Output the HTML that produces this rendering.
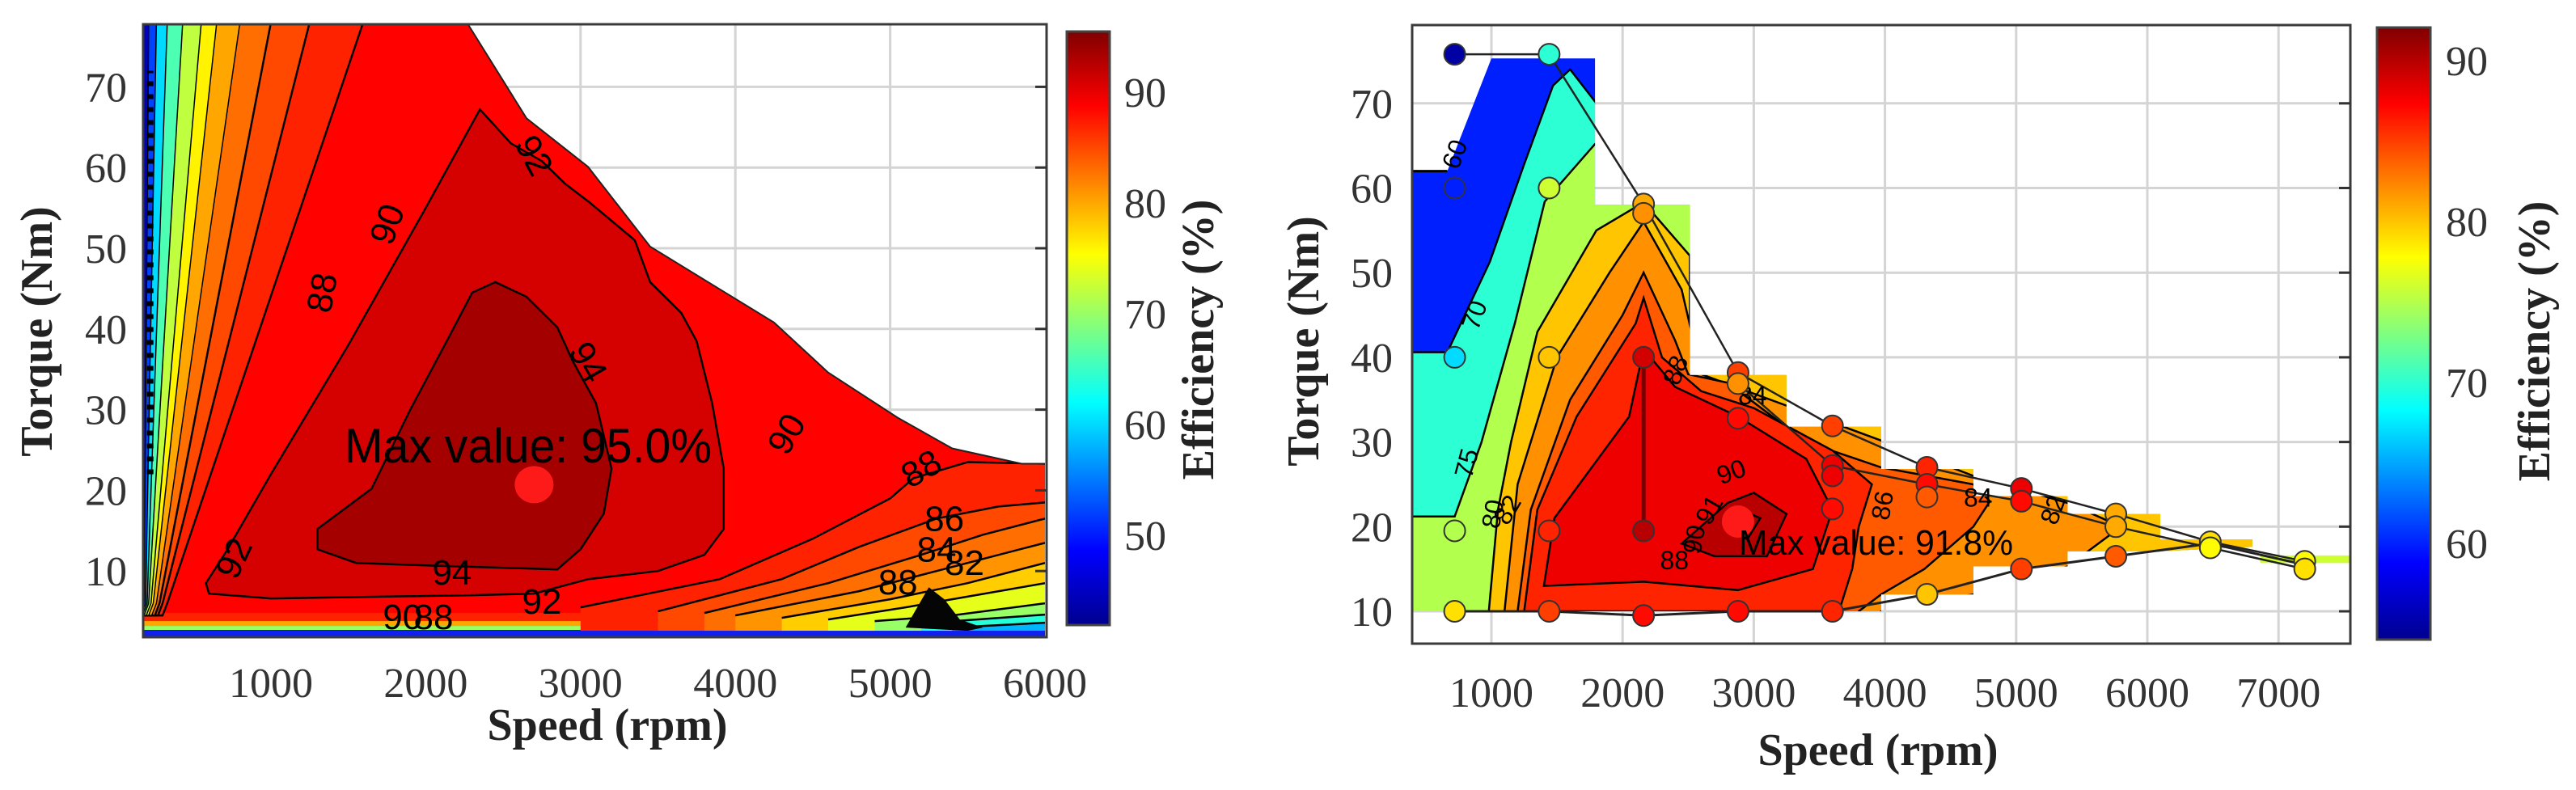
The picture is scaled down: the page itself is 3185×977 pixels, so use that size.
<!DOCTYPE html>
<html><head><meta charset="utf-8"><style>
html,body{margin:0;padding:0;background:#fff;}
svg{display:block;}
text{font-family:"Liberation Serif",serif;fill:#333;}
.sans{font-family:"Liberation Sans",sans-serif;fill:#000;}
.title{font-weight:bold;font-size:56px;fill:#222;}
.tick{font-size:52px;}
</style></head><body>
<svg id="chart" width="3185" height="977" viewBox="0 0 3185 977" xmlns="http://www.w3.org/2000/svg">
<defs>
<linearGradient id="jetL" x1="0" y1="1" x2="0" y2="0">
<stop offset="0" stop-color="#00008f"/><stop offset="0.125" stop-color="#0000ff"/><stop offset="0.375" stop-color="#00ffff"/><stop offset="0.625" stop-color="#ffff00"/><stop offset="0.875" stop-color="#ff0000"/><stop offset="1" stop-color="#800000"/>
</linearGradient>
<clipPath id="clipL"><polygon id="clipLpoly"/></clipPath>
<clipPath id="clipR"><polygon id="clipRpoly"/></clipPath>
</defs>
<g id="left"></g>
<g id="right"></g>
<text class="title" x="751" y="915" text-anchor="middle">Speed (rpm)</text>
<text class="title" transform="translate(64,410) rotate(-90)" text-anchor="middle">Torque (Nm)</text>
<text class="title" transform="translate(1500,420) rotate(-90)" text-anchor="middle">Efficiency (%)</text>
<text class="title" x="2322" y="946" text-anchor="middle">Speed (rpm)</text>
<text class="title" transform="translate(1630,422) rotate(-90)" text-anchor="middle">Torque (Nm)</text>
<text class="title" transform="translate(3152,422) rotate(-90)" text-anchor="middle">Efficiency (%)</text>
</svg>
<script>
// ---------- LEFT CHART DATA ----------
const leftXTicks = [1000,2000,3000,4000,5000,6000];
const leftYTicks = [10,20,30,40,50,60,70];
const leftCbTicks = [50,60,70,80,90];
const leftBoundary = [[175,1.8],[175,77.7],[2275,77.7],[2651,66.1],[3048,60.1],[3450,50.2],[4250,40.8],[4600,34.6],[5049,29],[5400,25.2],[5849,23.3],[6000,23.3],[6000,1.8]];
const leftMainLevel = 88.7;
const leftBottomStrips = [[87,3.8,4.8],[80,3.2,3.8],[70,2.7,3.2],[50,1.8,2.7]];
const left92 = [[2350,67.2],[2550,63],[2750,60.8],[2900,58],[3050,55.8],[3350,51],[3450,45.8],[3650,42],[3750,38.5],[3850,30.8],[3925,22.7],[3925,15.2],[3800,12],[3500,10],[3050,9],[2700,7.2],[2300,7.0],[1000,6.6],[600,7.2],[580,8.5],[720,12.7],[1000,22],[1500,38],[2000,55]];
const left94 = [[2450,45.8],[2300,44.5],[2150,39],[1900,30],[1650,20.2],[1300,15.2],[1300,12.7],[1550,11],[2000,10.7],[2850,10.2],[3000,12.7],[3150,17.1],[3200,22.7],[3100,30.8],[2950,36],[2850,40.2],[2650,44]];
const left92Level = 91;
const left94Level = 93.5;
const leftFanLevels = [87,85,83,81,78,74,70,64,58];
const leftFanEdges = [
 [[3000,5.5],[3900,9],[4500,14],[5000,19],[5150,21.5],[5500,23.5],[6000,23.3]],
 [[3500,5],[4300,9],[4800,13],[5300,16.5],[5700,18],[6000,18.5]],
 [[3800,4.8],[4600,8.5],[5200,12],[5600,14.5],[6000,16.5]],
 [[4000,4.5],[4800,7.5],[5300,10],[6000,13.5]],
 [[4300,4.2],[5000,6.5],[5500,8.5],[6000,11]],
 [[4600,4],[5100,5.5],[6000,8.5]],
 [[4900,3.8],[5400,4.5],[6000,6]],
 [[5200,3.5],[6000,4.6]],
 [[5400,3.0],[6000,3.6]]
];
const leftBandLevels = [87,85,83,80,76,72,66,60,52,45];
const leftBandTop = [1596,1250,1000,800,650,550,430,330,260,210];
const leftBandBottom = [330,300,280,260,240,225,210,200,190,180];
const leftDark = [[5100,3],[5250,8],[5350,6.5],[5450,4],[5600,3],[5500,2.6]];
const leftLabels = [["92",2700,61.5,62],["90",1750,53,-70],["88",1330,44.5,-80],["94",3050,35.9,60],["94",2170,9.8,0],["92",2750,6.2,0],["92",760,11.6,-65],["90",4330,27,-60],["88",5200,22.7,-30],["86",5350,16.5,0],["84",5300,12.7,0],["82",5480,11,0],["90",1850,4.3,0],["88",5050,8.6,0],["88",2050,4.3,0]];
const leftMax = [2700,20.7];
// ---------- RIGHT CHART DATA ----------
const rightXTicks = [1000,2000,3000,4000,5000,6000,7000];
const rightYTicks = [10,20,30,40,50,60,70];
const rightCbTicks = [60,70,80,90];
const rightDomain = [[395,10],[395,62],[664,62],[1000,75.3],[1790,75.3],[1790,58],[2513,58],[2513,37.9],[3249,37.9],[3249,31.8],[3971,31.8],[3971,26.8],[4674,26.8],[4674,23.6],[5392,23.6],[5392,21.5],[6098,21.5],[6098,18.5],[6800,18.5],[6800,17.6],[6098,17.1],[5392,17.1],[5392,15.3],[4674,15.3],[4674,12],[3971,12],[3971,10]];
const rightLevels = [60,70,75,80,82,84,86,88,90,91];
const rightPolys = [
 [[0,0],[9000,0],[9000,90],[0,90]],
 [[395,0],[395,40.6],[664,40.6],[988,51.3],[1245,62.6],[1470,72.1],[1600,74],[1800,70],[2600,70],[9000,70],[9000,0]],
 [[395,0],[395,21.2],[720,21.2],[923,29.9],[1180,44.1],[1406,58.4],[1790,65.2],[2600,65],[9000,65],[9000,0]],
 [[980,0],[980,10],[1050,22],[1150,30],[1350,43],[1800,55],[2160,58.3],[2513,52],[2513,40],[9000,40],[9000,0]],
 [[1100,0],[1100,10],[1200,25],[1500,40],[1900,50],[2160,56],[2450,48],[2600,38],[4000,30],[4674,26],[5392,22.8],[5800,20],[5392,15.3],[4674,12],[4320,11],[3971,10],[3971,0]],
 [[1200,0],[1200,10],[1300,22],[1600,35],[2000,45],[2160,50],[2400,42],[2500,38],[2800,37],[3400,30],[3971,27],[4674,25],[4800,23],[4674,20],[4300,15],[3971,12],[3800,10],[3800,0]],
 [[1250,10],[1350,22],[1650,33],[2100,44],[2160,47],[2300,40],[2600,36],[3000,34],[3600,29],[3900,25],[3800,20],[3750,15],[3650,10]],
 [[1400,13],[1480,21],[2050,33],[2160,41],[2400,36.5],[2880,33],[3400,28],[3600,22],[3450,15],[2880,12.5],[2160,13.5]],
 [[2450,18],[2800,22.8],[3000,24],[3250,21.5],[3100,16.5],[2700,16.5]],
 [[2800,20],[2900,22],[3050,21],[2950,18.5]]
];
const rightStrip = [6860,7550,15.7,16.6,76];
const markerSpeed = [720,720,720,720,720,1440,1440,1440,1440,1440,2160,2160,2160,2160,2160,2880,2880,2880,2880,3600,3600,3600,3600,3600,4320,4320,4320,4320,5040,5040,5040,5760,5760,5760,6480,6480,7200,7200];
const markerTorque = [75.8,60,40,19.5,10,75.8,60,40,19.5,10,58.1,57,40,19.5,9.5,38.2,36.9,32.8,10,31.9,27.2,26,22.1,10,27,25,23.5,12,24.5,23,15,21.5,20,16.5,18.2,17.5,15.9,15];
const markerEff = [55,60,67,75,79,70,76,80,86,85,81,82,89,90,87,85,82,87,87,85,88,88,87,86,86,87,84,80,88,87,85,81,81,84,79,78,78,79];
const upperLine = [[720,75.8],[1440,75.8],[2160,58.1],[2880,38.2],[3600,31.9],[4320,27],[5040,24.5],[5760,21.5],[6480,18.2],[7200,15.9]];
const midLine = [[2880,36.9],[3600,27.2],[4320,25],[5040,23],[5760,20],[6480,17.5],[7200,15]];
const lowerLine = [[720,10],[1440,10],[2160,9.5],[2880,10],[3600,10],[4320,12],[5040,15],[5760,16.5],[6480,18],[7200,15.5]];
const innerLine = [[2160,19.5],[2160,40]];
const rightLabels = [["60",720,64,-70],["70",870,45,-70],["75",810,27.5,-75],["80",1010,21.5,-80],["82",1120,22,-60],["88",2402,38.5,-70],["90",2828,26.5,-20],["91",2660,22,-60],["90",2545,18.5,-80],["88",2395,16,0],["84",4710,23.4,0],["86",3980,22.5,-80],["84",2990,35.5,0],["82",5280,22,-70]];
const rightMax = [2880,20.6];

// ---------- HELPERS ----------
const NS="http://www.w3.org/2000/svg";
function mk(parent,tag,attrs){const e=document.createElementNS(NS,tag);for(const k in attrs)e.setAttribute(k,attrs[k]);parent.appendChild(e);return e;}
function jet(t){t=Math.max(0,Math.min(1,t));const s=[[0,0,0,.56],[.125,0,0,1],[.375,0,1,1],[.625,1,1,0],[.875,1,0,0],[1,.5,0,0]];
 for(let i=1;i<s.length;i++){if(t<=s[i][0]){const a=s[i-1],b=s[i],f=(t-a[0])/(b[0]-a[0]);const c=[1,2,3].map(j=>Math.round(255*(a[j]+(b[j]-a[j])*f)));return `rgb(${c[0]},${c[1]},${c[2]})`;}}return "rgb(128,0,0)";}
const lsx=v=>335+(v-1000)*0.1914, lsy=t=>806-t*9.98;
const rsx=v=>1844+(v-1000)*0.1622, rsy=t=>860.7-t*10.47;
const lcol=v=>jet((v-41.8)/53.7), rcol=v=>jet((v-54.1)/38);
const pts=(arr,fx,fy)=>arr.map(p=>fx(p[0]).toFixed(1)+","+fy(p[1]).toFixed(1)).join(" ");

// ---------- LEFT ----------
const L=document.getElementById('left');
const LB={x0:177,y0:30,x1:1294,y1:788};
for(const v of leftXTicks.slice(0,-1)){const g=mk(L,'line',{x1:lsx(v),x2:lsx(v),y1:LB.y0,y2:LB.y1,stroke:'#d4d4d4','stroke-width':3});

}
for(const t of leftYTicks){const g=mk(L,'line',{x1:LB.x0,x2:LB.x1,y1:lsy(t),y2:lsy(t),stroke:'#d4d4d4','stroke-width':3});

}
document.getElementById('clipLpoly').setAttribute('points',pts(leftBoundary,lsx,lsy));
const LC=mk(L,'g',{'clip-path':'url(#clipL)'});


let e=mk(LC,'rect',{x:0,y:0,width:1400,height:900,fill:lcol(leftMainLevel)});


for(const s of leftBottomStrips){e=mk(LC,'rect',{x:0,y:lsy(s[2]),width:1400,height:lsy(s[1])-lsy(s[2]),fill:lcol(s[0])});

}
e=mk(LC,'polygon',{points:pts(left92,lsx,lsy),fill:lcol(left92Level),stroke:'#000','stroke-width':2.5});


e=mk(LC,'polygon',{points:pts(left94,lsx,lsy),fill:lcol(left94Level),stroke:'#000','stroke-width':2.5});


leftFanEdges.forEach((edge,i)=>{const poly=edge.concat([[6100,edge[edge.length-1][1]],[6100,0],[edge[0][0],0]]);
e=mk(LC,'polygon',{points:pts(poly,lsx,lsy),fill:lcol(leftFanLevels[i])});


e=mk(LC,'polyline',{points:pts(edge,lsx,lsy),fill:'none',stroke:'#000','stroke-width':2.5});

});
e=mk(LC,'polygon',{points:pts(leftDark,lsx,lsy),fill:'#050505'});


leftBandLevels.forEach((lv,i)=>{const poly=[[100,78],[leftBandTop[i],78],[leftBandBottom[i],6],[leftBandBottom[i]-30,4.5],[100,4.5]];
e=mk(LC,'polygon',{points:pts(poly,lsx,lsy),fill:lcol(lv),stroke:'#000','stroke-width':i<3?2.5:1.5});

});
e=mk(LC,'rect',{x:0,y:lsy(2.6),width:1400,height:lsy(1.5)-lsy(2.6),fill:'#1020ee'});


e=mk(LC,'line',{x1:lsx(220),x2:lsx(220),y1:lsy(22),y2:lsy(72),stroke:'#000','stroke-width':8,'stroke-dasharray':'6 10'});


e=mk(L,'polyline',{points:pts(leftBoundary.slice(2,12),lsx,lsy),fill:'none',stroke:'#222','stroke-width':2});


for(const lb of leftLabels){const x=lsx(lb[1]),y=lsy(lb[2]);
e=mk(L,'text',{x:x,y:y+15,'text-anchor':'middle','font-size':44,class:'sans',transform:`rotate(${lb[3]} ${x} ${y})`});
e.textContent=lb[0];

}
e=mk(L,'ellipse',{cx:lsx(leftMax[0]),cy:lsy(leftMax[1]),rx:24,ry:23,fill:'#ff1a1a'});


e=mk(L,'text',{x:426,y:572,textLength:454,lengthAdjust:'spacingAndGlyphs','font-size':60,class:'sans',fill:'#111'});
e.textContent='Max value: 95.0%';


e=mk(L,'rect',{x:LB.x0,y:LB.y0,width:LB.x1-LB.x0,height:LB.y1-LB.y0,fill:'none',stroke:'#3a3a3a','stroke-width':3});


for(const v of leftXTicks){e=mk(L,'text',{x:lsx(v),y:862,'text-anchor':'middle',class:'tick'});
e.textContent=String(v);

}
for(const t of leftYTicks){e=mk(L,'text',{x:157,y:lsy(t)+18,'text-anchor':'end',class:'tick'});
e.textContent=String(t);


e=mk(L,'line',{x1:LB.x1-14,x2:LB.x1,y1:lsy(t),y2:lsy(t),stroke:'#333','stroke-width':3});

}
const lcb=v=>114+(90-v)*13.7;
e=mk(L,'rect',{x:1319,y:39,width:53,height:734,fill:'url(#jetL)',stroke:'#444','stroke-width':3});


for(const v of leftCbTicks){e=mk(L,'text',{x:1390,y:lcb(v)+18,class:'tick'});
e.textContent=String(v);

}

// ---------- RIGHT ----------
const R=document.getElementById('right');
const RB={x0:1746,y0:31,x1:2906,y1:796};
for(const v of rightXTicks){e=mk(R,'line',{x1:rsx(v),x2:rsx(v),y1:RB.y0,y2:RB.y1,stroke:'#d4d4d4','stroke-width':3});

}
for(const t of rightYTicks){e=mk(R,'line',{x1:RB.x0,x2:RB.x1,y1:rsy(t),y2:rsy(t),stroke:'#d4d4d4','stroke-width':3});

}
document.getElementById('clipRpoly').setAttribute('points',pts(rightDomain,rsx,rsy));
const RC=mk(R,'g',{'clip-path':'url(#clipR)'});


rightPolys.forEach((p,i)=>{e=mk(RC,'polygon',{points:pts(p,rsx,rsy),fill:rcol(rightLevels[i]),stroke:i>0?'#000':'none','stroke-width':2.5});

});
e=mk(R,'rect',{x:rsx(rightStrip[0]),y:rsy(rightStrip[3]),width:rsx(rightStrip[1])-rsx(rightStrip[0]),height:rsy(rightStrip[2])-rsy(rightStrip[3]),fill:rcol(rightStrip[4])});


e=mk(R,'polyline',{points:pts([[395,62],[664,62]],rsx,rsy),stroke:'#000','stroke-width':3,fill:'none'});


for(const [ln,nm,w] of [[upperLine,'right-upper-envelope',2.5],[midLine,'right-mid-line',2.5],[lowerLine,'right-lower-envelope',3],[innerLine,'right-inner-line',5]]){
e=mk(R,'polyline',{points:pts(ln,rsx,rsy),fill:'none',stroke:nm==='right-inner-line'?'#7a0000':'#222','stroke-width':w});

}
for(const lb of rightLabels){const x=rsx(lb[1]),y=rsy(lb[2]);
e=mk(R,'text',{x:x,y:y+11,'text-anchor':'middle','font-size':32,class:'sans',transform:`rotate(${lb[3]} ${x} ${y})`});
e.textContent=lb[0];

}
markerSpeed.forEach((s,i)=>{e=mk(R,'circle',{cx:rsx(s),cy:rsy(markerTorque[i]),r:13,fill:rcol(markerEff[i]),stroke:'#333','stroke-width':2});

});
e=mk(R,'circle',{cx:rsx(rightMax[0]),cy:rsy(rightMax[1]),r:20,fill:'#ff1a1a'});


e=mk(R,'text',{x:2150,y:686,textLength:339,lengthAdjust:'spacingAndGlyphs','font-size':44,class:'sans',fill:'#111'});
e.textContent='Max value: 91.8%';


e=mk(R,'rect',{x:RB.x0,y:RB.y0,width:RB.x1-RB.x0,height:RB.y1-RB.y0,fill:'none',stroke:'#3a3a3a','stroke-width':3});


for(const v of rightXTicks){e=mk(R,'text',{x:rsx(v),y:874,'text-anchor':'middle',class:'tick'});
e.textContent=String(v);

}
for(const t of rightYTicks){e=mk(R,'text',{x:1722,y:rsy(t)+18,'text-anchor':'end',class:'tick'});
e.textContent=String(t);


e=mk(R,'line',{x1:RB.x1-14,x2:RB.x1,y1:rsy(t),y2:rsy(t),stroke:'#333','stroke-width':3});

}
const rcb=v=>75+(90-v)*19.9;
e=mk(R,'rect',{x:2939,y:34,width:66,height:757,fill:'url(#jetL)',stroke:'#444','stroke-width':3});


for(const v of rightCbTicks){e=mk(R,'text',{x:3024,y:rcb(v)+18,class:'tick'});
e.textContent=String(v);

}
</script>
</body></html>
